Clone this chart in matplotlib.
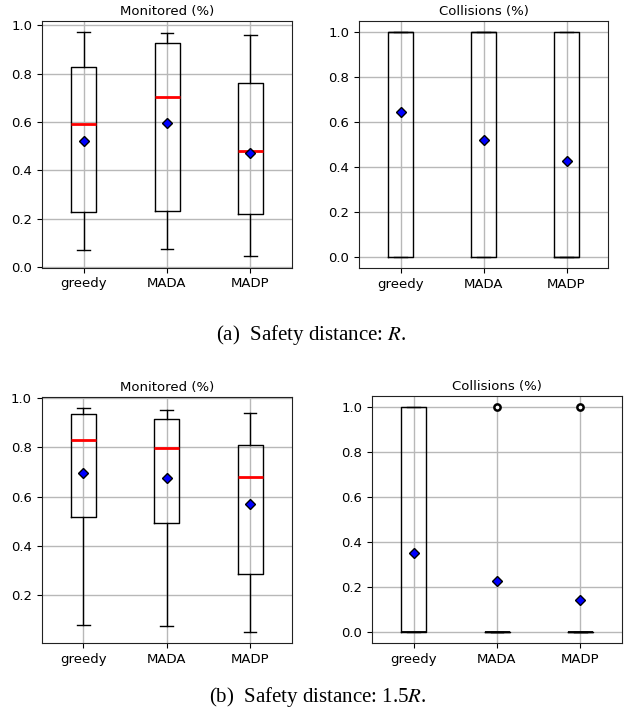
import matplotlib.pyplot as plt
import matplotlib

matplotlib.rcParams['mathtext.fontset'] = 'stix'

labels = ['greedy', 'MADA', 'MADP']

# (a) safety distance R -- monitored
mon_a_whislo = [0.073, 0.074, 0.045]
mon_a_q1 = [0.229, 0.233, 0.220]
mon_a_med = [0.590, 0.705, 0.482]
mon_a_q3 = [0.828, 0.927, 0.762]
mon_a_whishi = [0.972, 0.966, 0.960]
mon_a_mean = [0.521, 0.598, 0.474]

# (a) collisions
col_a_whislo = [0.0, 0.0, 0.0]
col_a_q1 = [0.0, 0.0, 0.0]
col_a_med = [1.0, 1.0, 0.0]
col_a_q3 = [1.0, 1.0, 1.0]
col_a_whishi = [1.0, 1.0, 1.0]
col_a_mean = [0.642, 0.520, 0.428]

# (b) safety distance 1.5R -- monitored
mon_b_whislo = [0.076, 0.074, 0.049]
mon_b_q1 = [0.516, 0.493, 0.284]
mon_b_med = [0.831, 0.799, 0.681]
mon_b_q3 = [0.935, 0.915, 0.812]
mon_b_whishi = [0.961, 0.954, 0.942]
mon_b_mean = [0.695, 0.676, 0.569]

# (b) collisions
col_b_whislo = [0.0, 0.0, 0.0]
col_b_q1 = [0.0, 0.0, 0.0]
col_b_med = [0.0, 0.0, 0.0]
col_b_q3 = [1.0, 0.0, 0.0]
col_b_whishi = [1.0, 0.0, 0.0]
col_b_mean = [0.350, 0.226, 0.142]
col_b_fliers = [[], [1.0], [1.0]]


def stats(whislo, q1, med, q3, whishi, mean, fliers=None):
    out = []
    for i in range(len(labels)):
        out.append(dict(label=labels[i], whislo=whislo[i], q1=q1[i], med=med[i],
                        q3=q3[i], whishi=whishi[i], mean=mean[i],
                        fliers=fliers[i] if fliers else []))
    return out


fig = plt.figure(figsize=(6.28, 7.24), dpi=100)
W, H = 628.0, 724.0


def box_ax(x0, y0, x1, y1, st, title, medcolor, medlw):
    ax = fig.add_axes([x0 / W, (H - y1) / H, (x1 - x0) / W, (y1 - y0) / H])
    ax.set_axisbelow(True)
    ax.grid(True, color='#b8b8b8', linewidth=1.0)
    ax.bxp(st, showmeans=True, widths=0.3,
           boxprops=dict(color='black', linewidth=1.0),
           whiskerprops=dict(color='black', linewidth=1.0),
           capprops=dict(color='black', linewidth=1.0),
           medianprops=dict(color=medcolor, linewidth=medlw),
           meanprops=dict(marker='D', markerfacecolor='blue', markeredgecolor='black',
                          markersize=5.5, zorder=3),
           flierprops=dict(marker='o', markerfacecolor='white', markeredgecolor='black',
                           markeredgewidth=1.8, markersize=4.5, zorder=3))
    ax.set_title(title, fontsize=9.5, pad=4)
    ax.tick_params(labelsize=9.5)
    for s in ax.spines.values():
        s.set_color('#222222')
    return ax


box_ax(42, 20.7, 292, 267.7,
       stats(mon_a_whislo, mon_a_q1, mon_a_med, mon_a_q3, mon_a_whishi, mon_a_mean),
       'Monitored (%)', 'red', 2.0)
box_ax(359, 20.7, 608, 268,
       stats(col_a_whislo, col_a_q1, col_a_med, col_a_q3, col_a_whishi, col_a_mean),
       'Collisions (%)', 'black', 1.0)
box_ax(41.7, 396.7, 291.7, 643.3,
       stats(mon_b_whislo, mon_b_q1, mon_b_med, mon_b_q3, mon_b_whishi, mon_b_mean),
       'Monitored (%)', 'red', 2.0)
box_ax(372, 396, 622, 643.3,
       stats(col_b_whislo, col_b_q1, col_b_med, col_b_q3, col_b_whishi, col_b_mean, col_b_fliers),
       'Collisions (%)', 'black', 1.3)

fig.text(311 / W, 1 - 335 / H, '(a)  Safety distance: $R$.', ha='center', va='center',
         fontsize=15, family='Liberation Serif')
fig.text(318 / W, 1 - 697 / H, '(b)  Safety distance: 1.5$R$.', ha='center', va='center',
         fontsize=15, family='Liberation Serif')

plt.savefig('out.png', dpi=100)
